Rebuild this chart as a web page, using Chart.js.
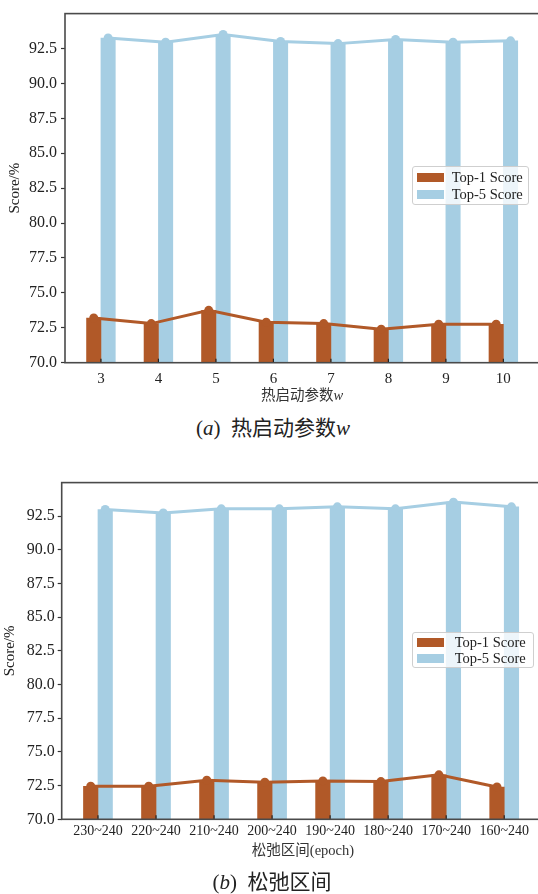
<!DOCTYPE html>
<html><head><meta charset="utf-8">
<script src="https://cdn.jsdelivr.net/npm/chart.js@4.4.1/dist/chart.umd.min.js"></script>
<style>
html,body{margin:0;padding:0;background:#fff;overflow:hidden;width:538px;height:894px;}
.wrap{position:absolute;left:0;}
.serif{font-family:"Liberation Serif","Noto Sans CJK SC",serif;}
.cap{position:absolute;left:0;width:538px;text-align:center;font-size:21px;color:#222;line-height:26px;}
.xt{position:absolute;width:300px;text-align:center;font-size:14.5px;color:#333;line-height:18px;}
.legend{position:absolute;box-sizing:border-box;background:rgba(255,255,255,0.8);border:1px solid #cfcfcf;border-radius:3px;font-size:14.5px;color:#222;padding:2px 0 0 4px;}
.legend .row{display:flex;align-items:center;height:16.7px;white-space:nowrap;}
.legend .sw{width:27px;height:9px;flex:none;}
</style></head>
<body>
<div class="wrap" style="top:0;width:545px;height:410px;"><canvas id="cA" width="545" height="410"></canvas></div>
<div class="xt serif" style="left:152px;top:386px;">热启动参数<i>w</i></div>
<div class="legend serif" id="legA" style="left:411.7px;top:166px;width:117px;height:39px;"></div>
<div class="cap serif" style="top:415px;left:4px;">(<i>a</i>)&nbsp;&nbsp;热启动参数<i>w</i></div>

<div class="wrap" style="top:470px;width:545px;height:395px;"><canvas id="cB" width="545" height="395"></canvas></div>
<div class="xt serif" style="left:153px;top:841px;">松弛区间(epoch)</div>
<div class="legend serif" id="legB" style="left:411.7px;top:631.7px;width:122px;height:36.5px;padding-top:1px;"></div>
<div class="cap serif" style="top:869px;left:3px;">(<i>b</i>)&nbsp;&nbsp;松弛区间</div>

<script>
// ---- data ----
const categoriesA = ['3','4','5','6','7','8','9','10'];
const top1A = [73.2, 72.8, 73.75, 72.9, 72.8, 72.4, 72.75, 72.75];
const top5A = [93.25, 92.95, 93.5, 93.0, 92.85, 93.15, 92.95, 93.05];

const categoriesB = ['230~240','220~240','210~240','200~240','190~240','180~240','170~240','160~240'];
const top1B = [72.45, 72.45, 72.9, 72.75, 72.85, 72.8, 73.3, 72.4];
const top5B = [93.0, 92.75, 93.05, 93.05, 93.2, 93.05, 93.55, 93.2];

const yTicks = [70.0, 72.5, 75.0, 77.5, 80.0, 82.5, 85.0, 87.5, 90.0, 92.5];
const seriesLabels = ['Top-1 Score', 'Top-5 Score'];
const yMin = 70, yMax = 95;

// ---- styles ----
const COLORS = ['#B15928', '#A6CEE3'];
const FONT = '"Liberation Serif","Noto Sans CJK SC",serif';
const OFFS = [-0.125, 0.125];

const framePlugin = {
  id: 'frame',
  afterDatasetsDraw(chart) {
    const {ctx, chartArea: a, scales: {x}} = chart;
    ctx.save();
    ctx.strokeStyle = '#222'; ctx.lineWidth = 1.2;
    x.ticks.forEach(t => {
      const px = x.getPixelForValue(t.value);
      ctx.beginPath(); ctx.moveTo(px, a.bottom); ctx.lineTo(px, a.bottom - 4); ctx.stroke();
    });
    ctx.strokeStyle = '#4a4a4a'; ctx.lineWidth = 1.6;
    ctx.strokeRect(a.left, a.top, a.right - a.left, a.bottom - a.top);
    ctx.restore();
  }
};

function makeChart(id, cats, s1, s5, L) {
  const series = [s1, s5];
  const datasets = [];
  series.forEach((vals, k) => {
    const pts = vals.map((v, i) => ({x: i + OFFS[k], y: v}));
    datasets.push({
      type: 'line', label: seriesLabels[k] + ' line', data: pts,
      borderColor: COLORS[k], backgroundColor: COLORS[k], borderWidth: 3,
      pointRadius: 4.5, pointHoverRadius: 4.5, pointBorderWidth: 0, order: 1
    });
  });
  series.forEach((vals, k) => {
    const pts = vals.map((v, i) => ({x: i + OFFS[k], y: v}));
    datasets.push({
      type: 'bar', label: seriesLabels[k], data: pts, backgroundColor: COLORS[k],
      grouped: false, barPercentage: 1, categoryPercentage: 1, base: yMin, order: 2
    });
  });
  return new Chart(document.getElementById(id), {
    type: 'bar',
    data: {datasets},
    options: {
      responsive: false, animation: false, devicePixelRatio: 1,
      layout: {padding: {top: L.top, right: L.right, left: 0, bottom: 0}},
      plugins: {legend: {display: false}, tooltip: {enabled: false}},
      scales: {
        x: {
          type: 'linear', offset: false, min: -0.625, max: cats.length - 1 + 0.625,
          afterBuildTicks: s => { s.ticks = cats.map((_, i) => ({value: i})); },
          afterFit: s => { s.height = L.xh; },
          grid: {display: true, drawOnChartArea: false, drawTicks: false},
          border: {display: false},
          ticks: {autoSkip: false, maxRotation: 0, padding: L.xpad, color: '#222',
            font: {family: FONT, size: L.xfs}, callback: v => cats[Math.round(v)]}
        },
        y: {
          min: yMin, max: yMax,
          afterBuildTicks: s => { s.ticks = yTicks.map(v => ({value: v})); },
          afterFit: s => { s.width = L.yw; },
          grid: {display: true, drawOnChartArea: false, drawTicks: true, tickLength: 4, color: '#333', tickWidth: 1.2},
          border: {display: false},
          ticks: {padding: L.ypad, color: '#222', font: {family: FONT, size: 16}, callback: v => v.toFixed(1)},
          title: {display: true, text: 'Score/%', color: '#222', font: {family: FONT, size: 15}, padding: {top: L.ytp, bottom: 0}}
        }
      }
    },
    plugins: [framePlugin]
  });
}

function makeLegend(id, gaps) {
  const el = document.getElementById(id);
  seriesLabels.forEach((lab, k) => {
    const row = document.createElement('div'); row.className = 'row';
    const sw = document.createElement('span'); sw.className = 'sw'; sw.style.background = COLORS[k]; sw.style.marginRight = gaps + 'px';
    const tx = document.createElement('span'); tx.textContent = lab;
    row.appendChild(sw); row.appendChild(tx); el.appendChild(row);
  });
}

makeChart('cA', categoriesA, top1A, top5A, {top: 10, right: 5.7, xh: 47.3, xpad: 7.3, xfs: 15, yw: 65, ypad: 4, ytp: 6});
makeChart('cB', categoriesB, top1B, top5B, {top: 10.7, right: 4.5, xh: 45.7, xpad: 4, xfs: 14, yw: 61.7, ypad: 3, ytp: 1});
makeLegend('legA', 8);
makeLegend('legB', 11);
</script>
</body></html>
